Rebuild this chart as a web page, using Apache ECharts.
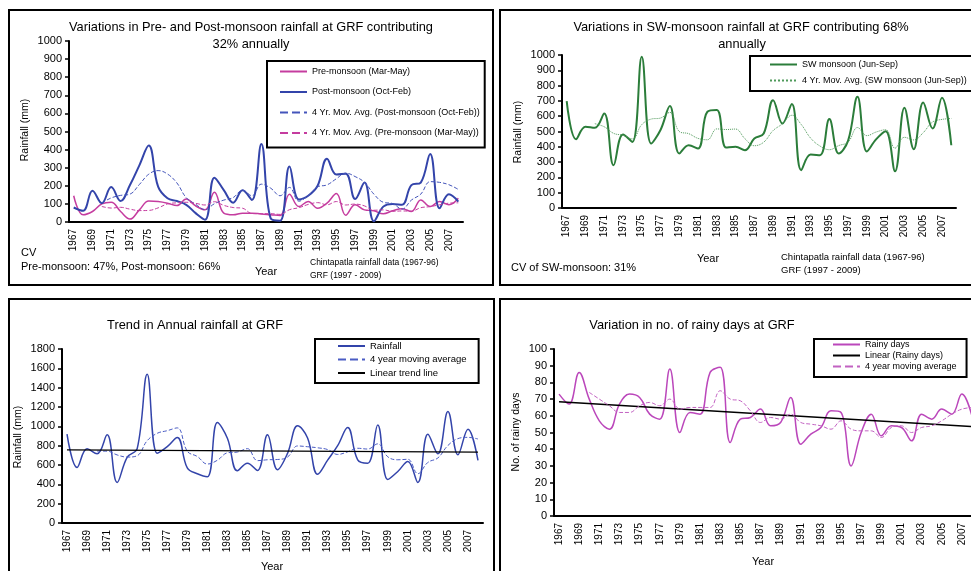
<!DOCTYPE html>
<html lang="en">
<head>
    <meta charset="UTF-8">
    <title>GRF rainfall</title>
    <script src="https://cdn.jsdelivr.net/npm/echarts@6/dist/echarts.min.js"></script>
    <style>
        body { margin: 0; background: #fff; }
    </style>
</head>
<body>
    <div id="main" style="width: 971px;height:571px;"></div>
    <script type="text/javascript">
        const years = ['1967', '1968', '1969', '1970', '1971', '1972', '1973', '1974', '1975', '1976',
            '1977', '1978', '1979', '1980', '1981', '1982', '1983', '1984', '1985', '1986',
            '1987', '1988', '1989', '1990', '1991', '1992', '1993', '1994', '1995', '1996',
            '1997', '1998', '1999', '2000', '2001', '2002', '2003', '2004', '2005', '2006',
            '2007', '2008']

        // panel 1 - pre / post monsoon (mm)
        const preMonsoon = [145, 40, 58, 100, 109, 58, 16, 67, 116, 113,
            104, 91, 127, 89, 67, 164, 49, 40, 49, 49,
            44, 40, 36, 153, 85, 113, 76, 104, 158, 37,
            95, 67, 62, 45, 62, 73, 58, 122, 85, 113,
            95, 131]
        const postMonsoon = [80, 62, 173, 104, 193, 116, 204, 313, 422, 195,
            131, 116, 95, 49, 13, 245, 176, 107, 175, 122,
            431, 20, 7, 307, 125, 145, 200, 349, 262, 267,
            127, 218, 4, 85, 100, 95, 204, 218, 376, 76,
            153, 113]
        const postMovAvg = [null, null, null, 105, 133, 147, 154, 207, 264, 284,
            265, 216, 134, 98, 68, 101, 121, 135, 176, 145,
            209, 187, 145, 191, 115, 146, 194, 205, 239, 270,
            251, 219, 154, 109, 102, 71, 121, 154, 223, 219,
            206, 180]
        const preMovAvg = [null, null, null, 86, 77, 81, 71, 63, 64, 78,
            100, 106, 109, 103, 94, 112, 92, 80, 76, 47,
            46, 46, 42, 68, 79, 97, 107, 95, 113, 94,
            99, 89, 65, 67, 59, 61, 60, 79, 85, 95,
            104, 106]

        // panel 2 - SW monsoon (mm)
        const swMonsoon = [699, 450, 531, 524, 618, 279, 480, 432, 989, 421,
            510, 666, 356, 410, 389, 629, 640, 395, 400, 378,
            454, 487, 705, 552, 679, 247, 349, 345, 581, 356,
            440, 727, 370, 450, 502, 240, 655, 384, 690, 520,
            720, 410]
        const swMovAvg = [null, null, null, 551, 531, 488, 475, 452, 545, 581,
            588, 625, 500, 486, 455, 446, 517, 513, 516, 453,
            407, 430, 506, 550, 606, 546, 457, 405, 381, 408,
            431, 526, 473, 497, 512, 391, 462, 445, 492, 562,
            579, 585]

        // panel 3 - annual rainfall (mm)
        const annualRain = [919, 575, 767, 716, 912, 420, 680, 770, 1538, 722,
            790, 884, 570, 509, 478, 1039, 877, 540, 619, 544,
            912, 551, 720, 1005, 880, 505, 650, 800, 988, 654,
            619, 1015, 450, 533, 637, 420, 919, 716, 1153, 705,
            970, 647]
        const annualMovAvg = [null, null, null, 744, 743, 704, 682, 696, 852, 928,
            955, 984, 742, 688, 610, 649, 726, 734, 769, 645,
            654, 657, 682, 797, 789, 778, 760, 709, 736, 773,
            765, 819, 685, 654, 659, 510, 627, 673, 802, 873,
            886, 869]
        const annualTrend = [['1967', 757], ['2008', 733]]

        // panel 4 - rainy days
        const rainyDays = [73, 67, 86, 70, 57, 52, 67, 73, 71, 61,
            58, 88, 50, 62, 61, 86, 89, 44, 58, 59,
            64, 54, 56, 71, 43, 49, 53, 63, 62, 30,
            50, 61, 48, 54, 53, 45, 61, 58, 64, 61,
            73, 60]
        const rainyMovAvg = [null, null, null, 74, 70, 66, 62, 62, 66, 68,
            66, 70, 64, 65, 65, 65, 75, 70, 69, 63,
            56, 59, 58, 61, 56, 55, 54, 52, 57, 52,
            51, 51, 47, 53, 54, 50, 53, 54, 57, 61,
            64, 65]
        const rainyTrend = [['1967', 68.4], ['2008', 53.6]]

        const FONT = "'Liberation Sans', Arial, sans-serif"
        const myChart = echarts.init(document.getElementById('main'))

        function xAx(grid) {
            return {
                type: 'category', gridIndex: grid, data: years, boundaryGap: true,
                axisLine: { lineStyle: { color: '#000', width: 2 } },
                axisTick: { interval: 0, length: 4, lineStyle: { color: '#000', width: 1.5 } },
                axisLabel: { interval: 1, rotate: 90, fontSize: 10, color: '#000', margin: 7, fontFamily: FONT },
                splitLine: { show: false }
            }
        }
        function yAx(grid, max, step) {
            return {
                type: 'value', gridIndex: grid, min: 0, max: max, interval: step,
                axisLine: { show: true, lineStyle: { color: '#000', width: 2 } },
                axisTick: { show: true, length: 4, lineStyle: { color: '#000', width: 1.5 } },
                axisLabel: { fontSize: 11, color: '#000', margin: 7, fontFamily: FONT,
                    formatter: v => String(v) },
                splitLine: { show: false }
            }
        }
        function line(name, grid, data, color, width, type, smooth) {
            return {
                name: name, type: 'line', xAxisIndex: grid, yAxisIndex: grid,
                data: data, symbol: 'none', smooth: smooth, connectNulls: false,
                color: color,
                lineStyle: { color: color, width: width, type: type }
            }
        }
        function legend(left, top, padding, gap, size, names, fmt) {
            return {
                orient: 'vertical', left: left, top: top, padding: padding,
                itemWidth: 27, itemHeight: 10, itemGap: gap, selectedMode: false,
                borderColor: '#000', borderWidth: 2, backgroundColor: '#fff',
                itemStyle: { opacity: 0 },
                textStyle: { fontSize: size, color: '#000', fontFamily: FONT },
                data: names, formatter: fmt
            }
        }
        function txt(text, x, y, size, align, rot) {
            return {
                type: 'text', x: x, y: y, rotation: rot || 0, silent: true,
                style: { text: text, fill: '#000', fontSize: size, fontFamily: FONT,
                    align: align || 'left', verticalAlign: 'middle' }
            }
        }
        function box(x, y, w, h) {
            return {
                type: 'rect', silent: true, z: 0,
                shape: { x: x, y: y, width: w, height: h },
                style: { fill: 'none', stroke: '#000', lineWidth: 2 }
            }
        }

        const blue = '#3344aa'
        const magenta = '#c53c9f'
        const green = '#2b7d3a'
        const rainyCol = '#bb47bb'

        const option = {
            animation: false,
            backgroundColor: '#fff',
            grid: [
                { left: 69, top: 41, width: 394, height: 181, outerBoundsMode: 'none' },
                { left: 562, top: 55, width: 394, height: 153, outerBoundsMode: 'none' },
                { left: 62, top: 349, width: 421, height: 174, outerBoundsMode: 'none' },
                { left: 554, top: 349, width: 423, height: 167, outerBoundsMode: 'none' }
            ],
            xAxis: [xAx(0), xAx(1), xAx(2), xAx(3)],
            yAxis: [yAx(0, 1000, 100), yAx(1, 1000, 100), yAx(2, 1800, 200), yAx(3, 100, 10)],
            legend: [
                legend(267, 61, [6, 5, 10, 12], 11.5, 9,
                    ['Pre-monsoon (Mar-May)', 'Post-monsoon (Oct-Feb)',
                        '4 Yr. Mov. Avg. (Post-monsoon (Oct-Feb))', '4 Yr. Mov. Avg. (Pre-monsoon (Mar-May))']),
                legend(750, 56, [4, 30, 6, 19], 7, 9,
                    ['SW monsoon (Jun-Sep)', '4 Yr. Mov. Avg. (SW monsoon (Jun-Sep))']),
                legend(315, 339, [2, 12, 5, 22], 3.5, 9.5,
                    ['Rainfall', '4 year moving average', 'Linear trend line']),
                legend(814, 339, [1, 10, 6, 18], 2, 9,
                    ['Rainy days', 'Linear (Rainy days)', '4 year moving average (days)'],
                    name => name.replace(' (days)', ''))
            ],
            graphic: [
                box(9, 10, 484, 275),
                box(500, 10, 480, 275),
                box(9, 299, 485, 290),
                box(500, 299, 480, 290),
                // panel 1 texts
                txt('Variations in Pre- and Post-monsoon rainfall at GRF contributing', 251, 27, 12.8, 'center'),
                txt('32% annually', 251, 44, 12.8, 'center'),
                txt('Rainfall (mm)', 25, 130, 10.5, 'center', Math.PI / 2),
                txt('Year', 266, 272, 11, 'center'),
                txt('CV', 21, 253, 11),
                txt('Pre-monsoon: 47%, Post-monsoon: 66%', 21, 267, 11),
                txt('Chintapatla rainfall data (1967-96)', 310, 263, 8.5),
                txt('GRF (1997 - 2009)', 310, 276, 8.5),
                // panel 2 texts
                txt('Variations in SW-monsoon rainfall at GRF contributing 68%', 741, 27, 12.8, 'center'),
                txt('annually', 742, 44, 12.8, 'center'),
                txt('Rainfall (mm)', 518, 132, 10.5, 'center', Math.PI / 2),
                txt('Year', 708, 259, 11, 'center'),
                txt('CV of SW-monsoon: 31%', 511, 268, 11),
                txt('Chintapatla rainfall data (1967-96)', 781, 257, 9.5),
                txt('GRF (1997 - 2009)', 781, 270, 9.5),
                // panel 3 texts
                txt('Trend in Annual rainfall at GRF', 195, 325, 12.8, 'center'),
                txt('Rainfall (mm)', 18, 437, 10.5, 'center', Math.PI / 2),
                txt('Year', 272, 567, 11, 'center'),
                // panel 4 texts
                txt('Variation in no. of rainy days at GRF', 692, 325, 12.8, 'center'),
                txt('No. of rainy days', 516, 432, 10.5, 'center', Math.PI / 2),
                txt('Year', 763, 562, 11, 'center')
            ],
            series: [
                line('Pre-monsoon (Mar-May)', 0, preMonsoon, magenta, 1.5, 'solid', 0.4),
                line('Post-monsoon (Oct-Feb)', 0, postMonsoon, blue, 2, 'solid', 0.4),
                line('4 Yr. Mov. Avg. (Post-monsoon (Oct-Feb))', 0, postMovAvg, '#4455bb', 1, 'dashed', 0.4),
                line('4 Yr. Mov. Avg. (Pre-monsoon (Mar-May))', 0, preMovAvg, magenta, 1, 'dashed', 0.4),

                line('SW monsoon (Jun-Sep)', 1, swMonsoon, green, 2, 'solid', 0.4),
                line('4 Yr. Mov. Avg. (SW monsoon (Jun-Sep))', 1, swMovAvg, '#4f9a5a', 1, 'dotted', 0.4),

                line('Rainfall', 2, annualRain, blue, 1.5, 'solid', 0.4),
                line('4 year moving average', 2, annualMovAvg, '#4a5cc4', 1, 'dashed', 0.4),
                line('Linear trend line', 2, annualTrend, '#000', 1.2, 'solid', false),

                line('Rainy days', 3, rainyDays, rainyCol, 1.5, 'solid', 0.4),
                line('Linear (Rainy days)', 3, rainyTrend, '#000', 1.5, 'solid', false),
                line('4 year moving average (days)', 3, rainyMovAvg, '#c262c2', 1, 'dashed', 0.4)
            ]
        }
        myChart.setOption(option)
    </script>
</body>
</html>
